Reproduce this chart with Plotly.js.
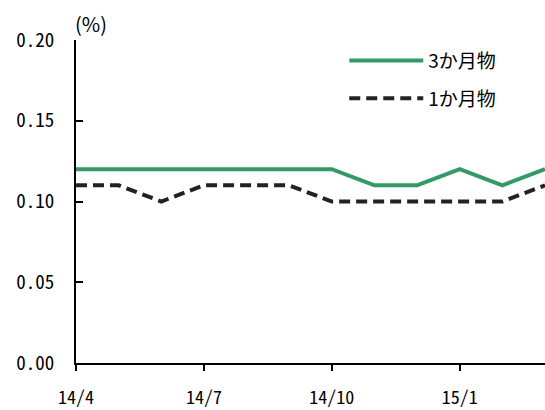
<!DOCTYPE html>
<html>
<head>
<meta charset="utf-8">
<script src="https://cdn.plot.ly/plotly-3.0.1.min.js"></script>
<style>html,body{margin:0;padding:0;background:#fff;}#chart{width:545px;height:410px;}</style>
</head>
<body>
<div id="chart"></div>
<script>
var months = ['14/4','14/5','14/6','14/7','14/8','14/9','14/10','14/11','14/12','15/1','15/2','15/3'];
var series3m = [0.12,0.12,0.12,0.12,0.12,0.12,0.12,0.11,0.11,0.12,0.11,0.12];
var series1m = [0.11,0.11,0.10,0.11,0.11,0.11,0.10,0.10,0.10,0.10,0.10,0.11];
var name3m = '3か月物';
var name1m = '1か月物';
var yTicks = [0, 0.05, 0.10, 0.15, 0.20];

var monoFamily = 'Noto Sans Mono CJK JP, DejaVu Sans Mono, monospace';

var data = [
  {x: months, y: series3m, name: name3m, type: 'scatter', mode: 'lines',
   line: {color: '#339966', width: 4}, legendgroup: 'a'},
  {x: months, y: series1m, name: name1m, type: 'scatter', mode: 'lines',
   line: {color: '#222222', width: 4, dash: '11px,6px'}, legendgroup: 'b'}
];

var layout = {
  width: 545, height: 410,
  margin: {l: 76, r: 0, t: 40, b: 47},
  paper_bgcolor: '#fff', plot_bgcolor: '#fff',
  showlegend: true,
  legend: {x: 0.572, y: 0.995, xanchor: 'left', yanchor: 'top',
           font: {family: 'Noto Sans CJK JP', size: 19, color: '#000'},
           bgcolor: 'rgba(0,0,0,0)', itemwidth: 74, tracegroupgap: 10,
           traceorder: 'grouped'},
  xaxis: {type: 'category', range: [0, 11], dtick: 3, tick0: 0,
          showline: true, linecolor: '#000', linewidth: 2,
          ticks: 'outside', ticklen: 6, tickwidth: 2, tickcolor: '#000',
          showgrid: false, zeroline: false,
          tickfont: {family: monoFamily, size: 18, color: '#000'},
          ticklabelstandoff: 11, fixedrange: true},
  yaxis: {range: [0, 0.2], tickvals: yTicks, tickformat: '.2f',
          showline: true, linecolor: '#000', linewidth: 2,
          ticks: 'inside', ticklen: 7, tickwidth: 2, tickcolor: '#000',
          showgrid: false, zeroline: false,
          tickfont: {family: monoFamily, size: 19, color: '#000'},
          ticklabelstandoff: 16, fixedrange: true},
  annotations: [{xref: 'paper', yref: 'paper', x: 0, y: 1, xanchor: 'center', yanchor: 'bottom',
                 xshift: 15, yshift: 0, showarrow: false, text: '(%)',
                 font: {family: 'Noto Sans CJK JP', size: 20, color: '#000'}}]
};

Plotly.newPlot('chart', data, layout, {displayModeBar: false, staticPlot: true});
</script>
</body>
</html>
